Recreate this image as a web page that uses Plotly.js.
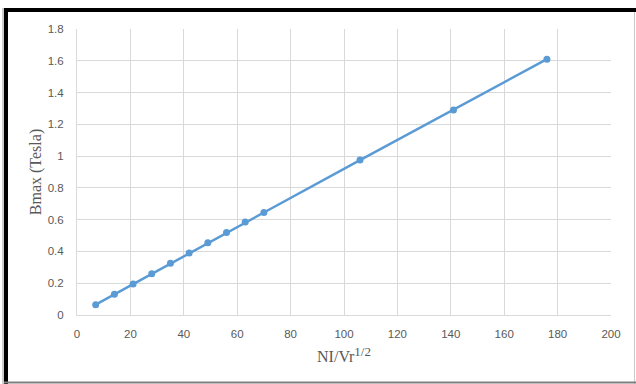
<!DOCTYPE html>
<html>
<head>
<meta charset="utf-8">
<script src="https://cdn.plot.ly/plotly-3.0.1.min.js"></script>
<style>
html,body{margin:0;padding:0;background:#fff;}
#chart{width:636px;height:384px;}
</style>
</head>
<body>
<div id="chart"></div>
<script>
const xValues = [7, 14, 21, 28, 35, 42, 49, 56, 63, 70, 106, 141, 176];
const bmaxValues = [0.065, 0.13, 0.195, 0.26, 0.325, 0.39, 0.455, 0.52, 0.585, 0.645, 0.975, 1.29, 1.61];
const xTitle = 'NI/Vr<sup><span style="font-size:13px">1/2</span></sup>';
const yTitle = 'Bmax (Tesla)';

const W = 636, H = 384;
const m = {l: 77, r: 25, t: 29, b: 69};
const pw = W - m.l - m.r, ph = H - m.t - m.b;
const px = v => (v - m.l) / pw;
const py = v => 1 - (v - m.t) / ph;

const trace = {
  x: xValues, y: bmaxValues, type: 'scatter', mode: 'lines+markers',
  line: {color: '#5b9bd5', width: 2.5},
  marker: {color: '#5b9bd5', size: 7},
  hoverinfo: 'none'
};

const tickFont = {family: 'Liberation Sans, Arial, sans-serif', size: 11.5, color: '#595959'};
const titleFont = {family: 'Liberation Serif, Times New Roman, serif', size: 16, color: '#595959'};

const layout = {
  width: W, height: H,
  margin: m,
  paper_bgcolor: '#fff', plot_bgcolor: '#fff',
  showlegend: false,
  xaxis: {
    range: [0, 200], dtick: 20, tick0: 0,
    showgrid: true, gridcolor: '#d9d9d9', gridwidth: 1,
    zeroline: false, showline: true, linecolor: '#d9d9d9', linewidth: 1,
    ticks: '', tickfont: tickFont, ticklabelstandoff: 8,
    title: {text: xTitle, font: titleFont, standoff: 12}
  },
  yaxis: {
    range: [0, 1.8], dtick: 0.2, tick0: 0,
    showgrid: true, gridcolor: '#d9d9d9', gridwidth: 1,
    zeroline: false, showline: true, linecolor: '#d9d9d9', linewidth: 1,
    ticks: '', tickfont: tickFont, ticklabelstandoff: 10,
    title: {text: yTitle, font: titleFont, standoff: 2}
  },
  shapes: [
    {type: 'line', xref: 'paper', yref: 'paper', x0: px(6), x1: px(6), y0: py(8), y1: py(384), line: {color: '#000', width: 4}},
    {type: 'line', xref: 'paper', yref: 'paper', x0: px(3), x1: px(3), y0: py(8), y1: py(384), line: {color: '#9a9a9a', width: 1}},
    {type: 'line', xref: 'paper', yref: 'paper', x0: px(4), x1: px(636), y0: py(10), y1: py(10), line: {color: '#000', width: 4}},
    {type: 'line', xref: 'paper', yref: 'paper', x0: px(634.5), x1: px(634.5), y0: py(12), y1: py(384), line: {color: '#c8c8c8', width: 1}},
    {type: 'line', xref: 'paper', yref: 'paper', x0: px(4), x1: px(636), y0: py(382.5), y1: py(382.5), line: {color: '#7f7f7f', width: 2}}
  ]
};

Plotly.newPlot('chart', [trace], layout, {staticPlot: true, displayModeBar: false});
</script>
</body>
</html>
